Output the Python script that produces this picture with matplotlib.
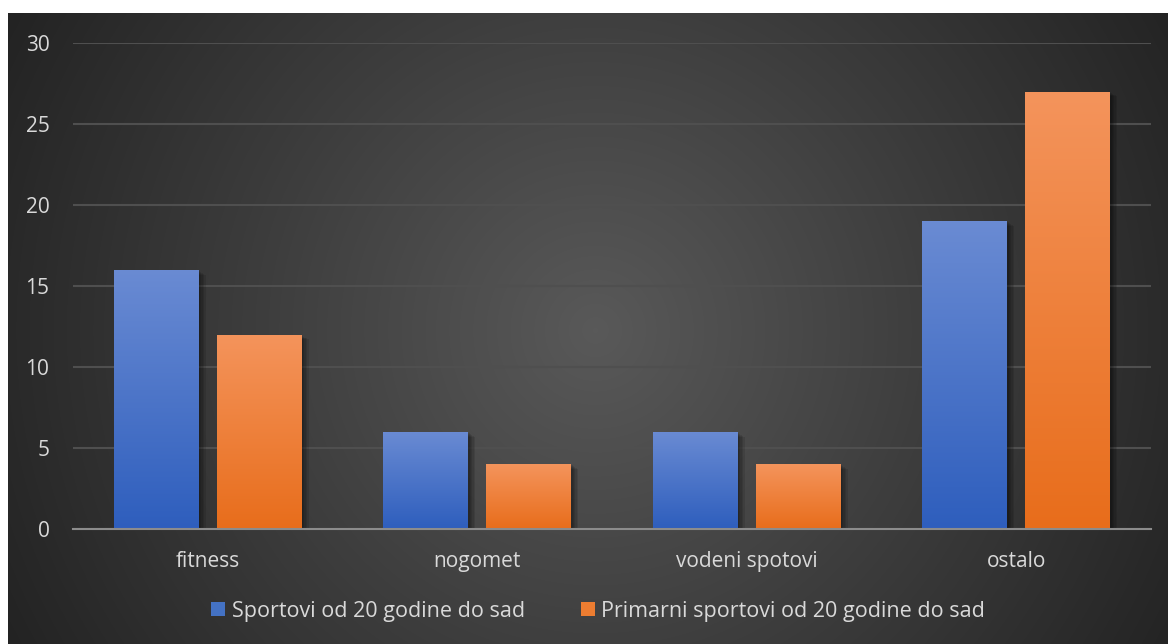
import numpy as np
import matplotlib
matplotlib.use("Agg")
import matplotlib.pyplot as plt
import matplotlib.patheffects as pe
from matplotlib.colors import LinearSegmentedColormap
from matplotlib.patches import Patch

categories = ["fitness", "nogomet", "vodeni spotovi", "ostalo"]
sportovi = [16, 6, 6, 19]
primarni = [12, 4, 4, 27]
series_names = ["Sportovi od 20 godine do sad", "Primarni sportovi od 20 godine do sad"]
y_ticks = [0, 5, 10, 15, 20, 25, 30]

plt.rcParams["font.family"] = ["Open Sans", "DejaVu Sans"]
text_color = "#d9d9d9"

fig = plt.figure(figsize=(11.68, 6.44), dpi=100)
fig.patch.set_facecolor("white")

# radial background of the chart area
bg = fig.add_axes([8 / 1168, 0, 1 - 8 / 1168, 1 - 13 / 644])
bg.set_axis_off()
h, w = 631, 1160
yy, xx = np.mgrid[0:h, 0:w]
d = np.sqrt((xx - 587) ** 2 + (yy - 317) ** 2) / 680
d = np.clip(d, 0, 1)
bgcmap = LinearSegmentedColormap.from_list("bg", ["#595959", "#3d3d3d", "#222222"])
bg.imshow(d, cmap=bgcmap, aspect="auto", vmin=0, vmax=1)

ax = fig.add_axes([73 / 1168, 1 - 529 / 644, (1151 - 73) / 1168, (529 - 43) / 644])
ax.set_facecolor("none")

x = np.arange(len(categories))
width = 0.315
off = 0.191

blue_cmap = LinearSegmentedColormap.from_list("b", ["#2e5ebd", "#6a8bd3"])
orange_cmap = LinearSegmentedColormap.from_list("o", ["#e86d1b", "#f4945c"])

# soft shadow from a few faint layers
shadow = [pe.SimplePatchShadow(offset=(o, -o * 0.7), shadow_rgbFace="black", alpha=0.1)
          for o in (1, 2, 3, 4, 5)] + [pe.Normal()]
b1 = ax.bar(x - off, sportovi, width, color="#4472c4", path_effects=shadow, zorder=2)
b2 = ax.bar(x + off, primarni, width, color="#ed7d31", path_effects=shadow, zorder=2)

grad = np.linspace(0, 1, 256).reshape(-1, 1)
for bars, cm in ((b1, blue_cmap), (b2, orange_cmap)):
    for r in bars:
        x0, y0 = r.get_x(), r.get_y()
        im = ax.imshow(grad, cmap=cm, origin="lower", aspect="auto",
                       extent=(x0, x0 + r.get_width(), y0, y0 + r.get_height()), zorder=3)
        im.set_clip_path(r)

ax.set_xlim(-0.5, 3.5)
ax.set_ylim(0, 30)
ax.set_yticks(y_ticks)
ax.yaxis.grid(True, color="#4f4f4f", linewidth=1.5, zorder=0)
ax.set_axisbelow(True)
for s in ["top", "right", "left"]:
    ax.spines[s].set_visible(False)
ax.spines["bottom"].set_color("#8c8c8c")
ax.spines["bottom"].set_linewidth(1.5)
ax.spines["bottom"].set_zorder(4)
ax.set_xticks(x)
ax.set_xticklabels(categories)
ax.tick_params(axis="both", length=0, labelsize=15, labelcolor=text_color)
ax.tick_params(axis="y", pad=17)
ax.tick_params(axis="x", pad=16)

handles = [Patch(facecolor="#4472c4"), Patch(facecolor="#ed7d31")]
fig.legend(handles, series_names, loc="center", bbox_to_anchor=(598 / 1168, 1 - 611 / 644),
           ncol=2, frameon=False, fontsize=15.5, labelcolor=text_color,
           handlelength=0.65, handleheight=0.65, handletextpad=0.3, columnspacing=2.6)

fig.savefig("out.png", dpi=100, facecolor=fig.get_facecolor())
